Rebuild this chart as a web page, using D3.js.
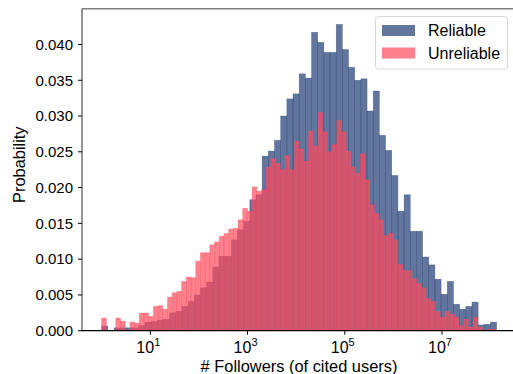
<!DOCTYPE html>
<html>
<head>
<meta charset="utf-8">
<script src="https://cdn.jsdelivr.net/npm/d3@7"></script>
<style>
  body { margin: 0; background: #fff; }
  text { font-family: "Liberation Sans", Arial, sans-serif; fill: #000; }
</style>
</head>
<body>
<div id="chart"></div>
<script>
// log10 range covered by the bins (1 follower .. max followers)
const logMin = 0
const logMax = 8.124

// "Probability" per log bin
const reliable = [
    0.00065, 0, 0.0004, 0.0004, 0.0004, 0.0004, 0.0007, 0.0012, 0.0013, 0.0015,
    0.0016, 0.0025, 0.0027, 0.0034, 0.0041, 0.0050, 0.0060, 0.0068, 0.0089, 0.0104,
    0.0104, 0.0127, 0.0141, 0.0153, 0.0183, 0.0190, 0.0244, 0.0251, 0.0266, 0.0300,
    0.0324, 0.0331, 0.0359, 0.0353, 0.0417, 0.0403, 0.0389, 0.0389, 0.0428, 0.0393,
    0.0368, 0.0350, 0.0352, 0.0307, 0.0335, 0.0273, 0.0252, 0.0217, 0.0167, 0.0190,
    0.0139, 0.0139, 0.0103, 0.0092, 0.0072, 0.0051, 0.0069, 0.0037, 0.0030, 0.0034,
    0.0040, 0.0008, 0.0009, 0.0012
]

const unreliable = [
    0.00177, 0, 0, 0.00177, 0.00135, 0, 0.0012, 0.00107, 0.00247, 0.00247,
    0.0020, 0.0034, 0.0035, 0.0030, 0.0047, 0.0053, 0.0055, 0.0069, 0.0075, 0.0074,
    0.0097, 0.0109, 0.0109, 0.0120, 0.0124, 0.0132, 0.0136, 0.0142, 0.0143, 0.0155,
    0.0171, 0.0167, 0.0201, 0.0195, 0.0197, 0.0229, 0.0241, 0.0234, 0.0225, 0.0245,
    0.0225, 0.0265, 0.0254, 0.0237, 0.0279, 0.0258, 0.0305, 0.0278, 0.0250, 0.0260,
    0.0294, 0.0278, 0.0251, 0.0229, 0.0220, 0.0247, 0.0211, 0.0176, 0.0164, 0.0155,
    0.0133, 0.0136, 0.0127, 0.0093, 0.0084, 0.0084, 0.0073, 0.0066, 0.0060, 0.0045,
    0.0041, 0.0027, 0.0019, 0.0027, 0.0023, 0.0019, 0.0007, 0.0016, 0.0005, 0.0019,
    0.0005, 0.0001, 0.0002, 0.0002
]

const yTicks = [0, 0.005, 0.010, 0.015, 0.020, 0.025, 0.030, 0.035, 0.040]
const xTickExp = [1, 3, 5, 7]
const seriesNames = ["Reliable", "Unreliable"]
const seriesColors = ["#1f3b74", "#ff4a5c"]

function init() {
    let W = 513, H = 374
    let svg = d3.select("#chart")
        .append("svg")
        .attr("width", W)
        .attr("height", H)

    let left = 82, right = 516.4, top = 8.7, bottom = 330.7

    let x = d3.scaleLog()
        .domain([Math.pow(10, -0.405), Math.pow(10, 8.53)])
        .range([left, right])
    let y = d3.scaleLinear()
        .domain([0, 0.045])
        .range([bottom, top])

    drawBars(svg, x, y, reliable, seriesColors[0])
    drawBars(svg, x, y, unreliable, seriesColors[1])

    // spines
    svg.append("line").attr("x1", left).attr("x2", W).attr("y1", top).attr("y2", top)
        .attr("stroke", "#808080").attr("stroke-width", 1.6)
    svg.append("line").attr("x1", left).attr("x2", left).attr("y1", top).attr("y2", bottom)
        .attr("stroke", "#6a6a6a").attr("stroke-width", 1.4)
    svg.append("line").attr("x1", left - 0.7).attr("x2", W).attr("y1", bottom).attr("y2", bottom)
        .attr("stroke", "#000").attr("stroke-width", 1.3)

    // y axis
    let yAxis = svg.append("g")
    yAxis.selectAll("line.tick")
        .data(yTicks)
        .enter()
        .append("line")
        .attr("x1", left - 4)
        .attr("x2", left)
        .attr("y1", d => y(d))
        .attr("y2", d => y(d))
        .attr("stroke", "#000")
        .attr("stroke-width", 1)
    yAxis.selectAll("text")
        .data(yTicks)
        .enter()
        .append("text")
        .attr("x", left - 9)
        .attr("y", d => y(d) + 5.3)
        .attr("text-anchor", "end")
        .style("font-size", "15px")
        .text(d => d3.format(".3f")(d))

    // x axis
    let xAxis = svg.append("g")
    xAxis.selectAll("line")
        .data(xTickExp)
        .enter()
        .append("line")
        .attr("x1", d => x(Math.pow(10, d)))
        .attr("x2", d => x(Math.pow(10, d)))
        .attr("y1", bottom)
        .attr("y2", bottom + 4)
        .attr("stroke", "#000")
        .attr("stroke-width", 1)
    let lab = xAxis.selectAll("text")
        .data(xTickExp)
        .enter()
        .append("text")
        .attr("x", d => x(Math.pow(10, d)) - 2)
        .attr("y", 352.5)
        .attr("text-anchor", "middle")
        .style("font-size", "16px")
    lab.append("tspan").text("10")
    lab.append("tspan")
        .attr("dy", -7)
        .style("font-size", "11px")
        .text(d => d)

    svg.append("text")
        .attr("x", 299)
        .attr("y", 371.5)
        .attr("text-anchor", "middle")
        .style("font-size", "16.4px")
        .text("# Followers (of cited users)")

    svg.append("text")
        .attr("transform", "translate(25," + ((top + bottom) / 2 - 5) + ") rotate(-90)")
        .attr("text-anchor", "middle")
        .style("font-size", "16.4px")
        .text("Probability")

    // legend
    let lg = svg.append("g")
    lg.append("rect")
        .attr("x", 375.5)
        .attr("y", 16.5)
        .attr("width", 132)
        .attr("height", 52.5)
        .attr("rx", 3)
        .attr("fill", "#fff")
        .attr("fill-opacity", 0.8)
        .attr("stroke", "#d6d6d6")
    lg.selectAll("rect.patch")
        .data(seriesNames)
        .enter()
        .append("rect")
        .attr("x", 382)
        .attr("y", (d, i) => 25 + i * 22.5)
        .attr("width", 33)
        .attr("height", 11)
        .attr("fill", (d, i) => seriesColors[i])
        .attr("fill-opacity", 0.7)
        .classed("patch", true)
    lg.selectAll("text")
        .data(seriesNames)
        .enter()
        .append("text")
        .attr("x", 428)
        .attr("y", (d, i) => 36 + i * 22.5)
        .style("font-size", "16px")
        .text(d => d)
}

function drawBars(svg, x, y, data, color) {
    let n = data.length
    let w = (logMax - logMin) / n
    svg.append("g")
        .selectAll("rect")
        .data(data)
        .enter()
        .append("rect")
        .attr("x", (d, i) => x(Math.pow(10, logMin + i * w)))
        .attr("width", (d, i) => x(Math.pow(10, logMin + (i + 1) * w)) - x(Math.pow(10, logMin + i * w)))
        .attr("y", d => y(d))
        .attr("height", d => y(0) - y(d))
        .attr("fill", color)
        .attr("fill-opacity", 0.7)
        .attr("stroke", color)
        .attr("stroke-opacity", 0.45)
        .attr("stroke-width", 0.6)
}

window.onload = init;
</script>
</body>
</html>
